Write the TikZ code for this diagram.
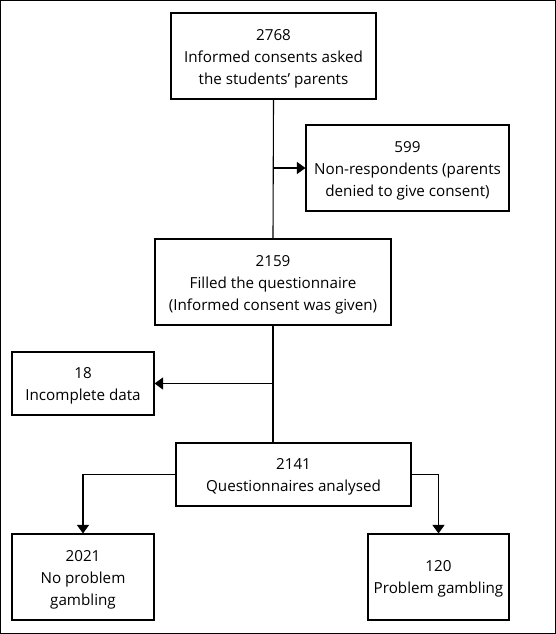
\documentclass[tikz,border=0pt]{standalone}
\usepackage{fontspec}
\setmainfont{Open Sans}
\usetikzlibrary{arrows.meta}
\begin{document}
\begin{tikzpicture}[x=1pt,y=-1pt,
  box/.style={draw,line width=1.1pt,inner sep=0pt},
  txt/.style={align=center,inner sep=0pt,font=\fontsize{15.2}{22}\selectfont},
  conn/.style={line width=1.1pt},
  arr/.style={conn,-{Triangle[length=8.5pt,width=12pt]}}]
\draw[line width=1.1pt] (0.6,0.6) rectangle (555.4,633.4);
\useasboundingbox (0,0) rectangle (556,634);
\node[box,minimum width=205pt,minimum height=86pt] (b1) at (273.5,56) {};
\node[txt] (t1) at ([yshift=-2.5pt]b1.center) {2768\\Informed consents asked\\the students’ parents};
\node[box,minimum width=203pt,minimum height=86pt] (b599) at (407.5,168) {};
\node[txt] (t599) at ([yshift=-2.5pt]b599.center) {599\\Non-respondents (parents\\denied to give consent)};
\node[box,minimum width=236pt,minimum height=86pt] (b2) at (273,282) {};
\node[txt] (t2) at ([yshift=-2.5pt]b2.center) {2159\\Filled the questionnaire\\(Informed consent was given)};
\node[box,minimum width=142pt,minimum height=63pt] (b18) at (83,383.5) {};
\node[txt] (t18) at ([yshift=-2pt]b18.center) {18\\Incomplete data};
\node[box,minimum width=235pt,minimum height=63pt] (b3) at (293.5,474.5) {};
\node[txt] (t3) at ([yshift=-2pt]b3.center) {2141\\Questionnaires analysed};
\node[box,minimum width=142pt,minimum height=86pt] (b4) at (83,577) {};
\node[txt] (t4) at ([yshift=-2.5pt]b4.center) {2021\\No problem\\gambling};
\node[box,minimum width=141pt,minimum height=86pt] (b5) at (438.5,577) {};
\node[txt] (t5) at ([yshift=-2pt]b5.center) {120\\Problem gambling};
\draw[conn] (b1.south) -- (b2.north);
\draw[arr] (b1.south |- b599.west) -- (b599.west);
\draw[conn] (b2.south) -- (b2.south |- b3.north);
\draw[arr] (b2.south |- b18.east) -- (b18.east);
\draw[arr] (b3.west) -| (b4.north);
\draw[arr] (b3.east) -| (b5.north);
\end{tikzpicture}
\end{document}
